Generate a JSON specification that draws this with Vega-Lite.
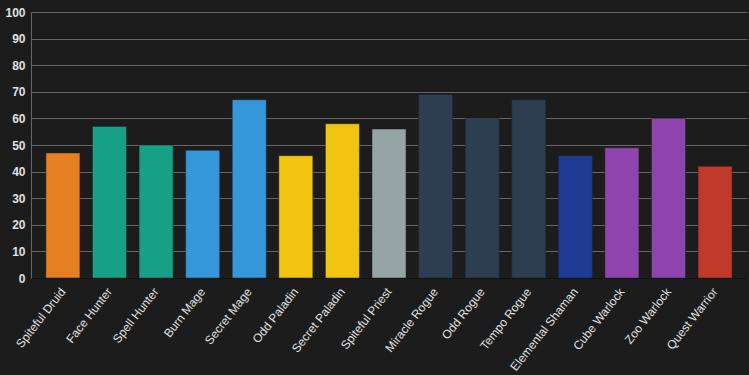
{
  "$schema": "https://vega.github.io/schema/vega-lite/v6.json",
  "width": 749,
  "height": 375,
  "autosize": {"type": "fit", "contains": "padding"},
  "padding": {"left": 4, "top": 6, "right": 2, "bottom": 2},
  "background": "#1c1c1c",
  "config": {"view": {"stroke": null}, "font": "Liberation Sans"},
  "data": {"values": [
    {"deck": "Spiteful Druid", "value": 47, "color": "#e67e22"},
    {"deck": "Face Hunter", "value": 57, "color": "#16a085"},
    {"deck": "Spell Hunter", "value": 50, "color": "#16a085"},
    {"deck": "Burn Mage", "value": 48, "color": "#3498db"},
    {"deck": "Secret Mage", "value": 67, "color": "#3498db"},
    {"deck": "Odd Paladin", "value": 46, "color": "#f1c40f"},
    {"deck": "Secret Paladin", "value": 58, "color": "#f1c40f"},
    {"deck": "Spiteful Priest", "value": 56, "color": "#95a5a6"},
    {"deck": "Miracle Rogue", "value": 69, "color": "#2c3e50"},
    {"deck": "Odd Rogue", "value": 60, "color": "#2c3e50"},
    {"deck": "Tempo Rogue", "value": 67, "color": "#2c3e50"},
    {"deck": "Elemental Shaman", "value": 46, "color": "#1f3a93"},
    {"deck": "Cube Warlock", "value": 49, "color": "#8e44ad"},
    {"deck": "Zoo Warlock", "value": 60, "color": "#8e44ad"},
    {"deck": "Quest Warrior", "value": 42, "color": "#c0392b"}
  ]},
  "mark": {"type": "bar", "stroke": "#222222", "strokeWidth": 1, "strokeOpacity": 0.5},
  "encoding": {
    "x": {
      "field": "deck", "type": "nominal", "sort": null, "title": null,
      "scale": {"paddingInner": 0.27, "paddingOuter": 0.32},
      "axis": {"labelAngle": -52, "labelColor": "#e0e0e0", "labelFontSize": 12, "ticks": false, "domain": true, "domainColor": "#111111", "labelPadding": 11}
    },
    "y": {
      "field": "value", "type": "quantitative", "title": null,
      "scale": {"domain": [0, 100]},
      "axis": {"values": [0,10,20,30,40,50,60,70,80,90,100], "labelColor": "#e0e0e0", "labelFontSize": 12, "labelFontWeight": "bold", "ticks": false, "domainColor": "#666666", "gridColor": "#666666", "gridWidth": 1, "labelPadding": 6}
    },
    "color": {"field": "color", "type": "nominal", "scale": null, "legend": null}
  }
}
